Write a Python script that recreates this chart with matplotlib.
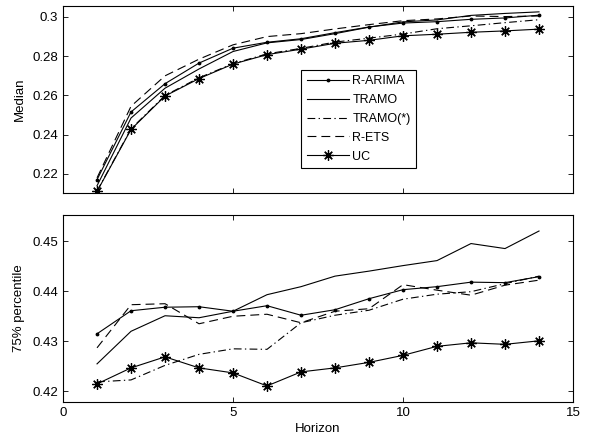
import matplotlib
matplotlib.use("Agg")
import matplotlib.pyplot as plt
import numpy as np

plt.rcParams['font.family'] = ['Liberation Sans', 'DejaVu Sans']
plt.rcParams['font.size'] = 9.5

horizon = np.arange(1, 15)

# median of the errors
med_rarima = [0.2171, 0.2516, 0.2660, 0.2765, 0.2841, 0.2871, 0.2889, 0.2920,
              0.2949, 0.2969, 0.2976, 0.2988, 0.2995, 0.3009]
med_tramo = [0.2140, 0.2485, 0.2637, 0.2735, 0.2824, 0.2868, 0.2885, 0.2915,
             0.2948, 0.2975, 0.2985, 0.3008, 0.3018, 0.3026]
med_tramo_s = [0.2113, 0.2430, 0.2600, 0.2690, 0.2762, 0.2812, 0.2840, 0.2872,
               0.2892, 0.2913, 0.2940, 0.2955, 0.2971, 0.2986]
med_rets = [0.2180, 0.2545, 0.2700, 0.2785, 0.2858, 0.2900, 0.2915, 0.2939,
            0.2961, 0.2981, 0.2990, 0.3005, 0.3002, 0.3005]
med_uc = [0.2111, 0.2427, 0.2597, 0.2686, 0.2760, 0.2808, 0.2836, 0.2866,
          0.2881, 0.2904, 0.2912, 0.2922, 0.2929, 0.2938]

# 75% percentile
p75_rarima = [0.4315, 0.4361, 0.4368, 0.4369, 0.4360, 0.4371, 0.4352, 0.4363,
              0.4385, 0.4403, 0.4409, 0.4418, 0.4417, 0.4429]
p75_tramo = [0.4255, 0.4320, 0.4351, 0.4347, 0.4360, 0.4393, 0.4409, 0.4430,
             0.4440, 0.4451, 0.4461, 0.4495, 0.4485, 0.4520]
p75_tramo_s = [0.4219, 0.4223, 0.4252, 0.4274, 0.4285, 0.4284, 0.4337, 0.4352,
               0.4362, 0.4384, 0.4394, 0.4399, 0.4415, 0.4430]
p75_rets = [0.4287, 0.4373, 0.4375, 0.4335, 0.4350, 0.4354, 0.4337, 0.4360,
            0.4365, 0.4413, 0.4402, 0.4392, 0.4412, 0.4422]
p75_uc = [0.4215, 0.4247, 0.4269, 0.4247, 0.4237, 0.4211, 0.4239, 0.4247,
          0.4258, 0.4272, 0.4290, 0.4297, 0.4294, 0.4301]

labels = ['R-ARIMA', 'TRAMO', 'TRAMO(*)', 'R-ETS', 'UC']

lw = 0.8
ast = (8, 2, 0)


def draw(ax, rarima, tramo, tramo_s, rets, uc):
    ax.plot(horizon, rarima, 'k-', lw=lw, marker='.', ms=3.5, label=labels[0])
    ax.plot(horizon, tramo, 'k-', lw=lw, label=labels[1])
    ax.plot(horizon, tramo_s, 'k', lw=lw, dashes=(7, 3, 1.2, 3), label=labels[2])
    ax.plot(horizon, rets, 'k', lw=lw, dashes=(8, 4.5), label=labels[3])
    ax.plot(horizon, uc, 'k-', lw=lw, marker=ast, ms=7.5, mew=0.9, label=labels[4])
    ax.set_xlim(0, 15)
    ax.set_xticks([0, 5, 10, 15])
    ax.tick_params(direction='in', top=True, right=True, length=3.5, width=0.6)
    for s in ax.spines.values():
        s.set_linewidth(0.8)


fig = plt.figure(figsize=(5.98, 4.46), dpi=100)
ax1 = fig.add_axes([0.1054, 0.5673, 0.8528, 0.4193])
ax2 = fig.add_axes([0.1054, 0.0987, 0.8528, 0.4193])

draw(ax1, med_rarima, med_tramo, med_tramo_s, med_rets, med_uc)
ax1.set_ylim(0.2103, 0.3056)
ax1.set_yticks([0.22, 0.24, 0.26, 0.28, 0.3])
ax1.set_yticklabels(['0.22', '0.24', '0.26', '0.28', '0.3'])
ax1.tick_params(labelbottom=False)
ax1.set_ylabel('Median', labelpad=5)
leg = ax1.legend(loc='upper left', bbox_to_anchor=(0.467, 0.66), fancybox=False,
                 framealpha=1, edgecolor='black', handlelength=3.4,
                 labelspacing=0.55, borderpad=0.45, handletextpad=0.25,
                 borderaxespad=0, fontsize=9)
leg.get_frame().set_linewidth(0.8)

draw(ax2, p75_rarima, p75_tramo, p75_tramo_s, p75_rets, p75_uc)
ax2.set_ylim(0.4179, 0.4552)
ax2.set_yticks([0.42, 0.43, 0.44, 0.45])
ax2.set_ylabel('75% percentile', labelpad=5)
ax2.set_xlabel('Horizon', labelpad=3)

fig.savefig('out.png', dpi=100)
